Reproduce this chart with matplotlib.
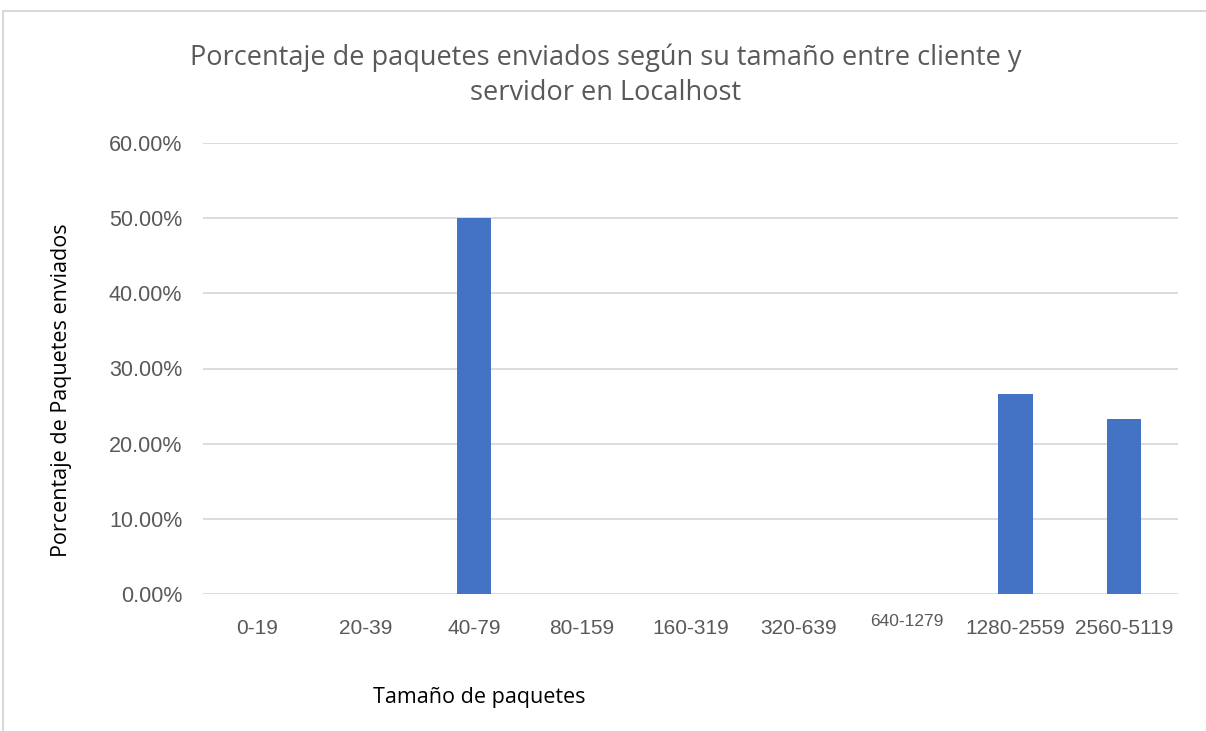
"""Porcentaje de paquetes enviados segun su tamano (Localhost)"""

import matplotlib.pyplot as plt
from matplotlib.patches import Rectangle

categories = ['0-19', '20-39', '40-79', '80-159', '160-319', '320-639',
              '640-1279', '1280-2559', '2560-5119']
percentages = [0.0, 0.0, 50.0, 0.0, 0.0, 0.0, 0.0, 26.67, 23.33]
y_ticks = [0, 10, 20, 30, 40, 50, 60]

W, H = 1206, 731
fig = plt.figure(figsize=(W / 100, H / 100), dpi=100)

# plot area in pixels
left, right, top, bottom = 203, 1178, 143, 594
ax = fig.add_axes([left / W, 1 - bottom / H, (right - left) / W, (bottom - top) / H])

x = range(len(categories))
ax.bar(x, percentages, width=0.32, color='#4472C4', zorder=3)
ax.set_xlim(-0.5, len(categories) - 0.5)
ax.set_ylim(0, 60)
ax.set_yticks(y_ticks)
ax.set_yticklabels([f'{v:.2f}%' for v in y_ticks], family='Liberation Sans',
                   fontsize=15.5, color='#595959')
ax.set_xticks(list(x))
ax.set_xticklabels(categories, family='Liberation Sans', fontsize=15, color='#595959')
for lbl in ax.get_xticklabels():
    if lbl.get_text() == '640-1279':
        lbl.set_fontsize(12.5)
        lbl.set_y(0.012)
ax.tick_params(length=0)
ax.tick_params(axis='x', pad=18)
ax.tick_params(axis='y', pad=15)
ax.grid(axis='y', color='#D9D9D9', linewidth=1.3, zorder=0)
for s in ax.spines.values():
    s.set_visible(False)

fig.text(606 / W, 1 - 75 / H,
         'Porcentaje de paquetes enviados según su tamaño entre cliente y\nservidor en Localhost',
         ha='center', va='center', family='Open Sans', fontsize=19.5, color='#595959',
         linespacing=1.32)
fig.text(62 / W, 1 - 390 / H, 'Porcentaje de Paquetes enviados', rotation=90,
         ha='center', va='center', family='Open Sans', fontsize=15.5, color='black')
fig.text(479 / W, 1 - 698 / H, 'Tamaño de paquetes', ha='center', va='center',
         family='Open Sans', fontsize=15.5, color='black')

# outer chart frame
fig.patches.append(Rectangle((3 / W, -0.01), 1.02, 1 - 11 / H + 0.01,
                             transform=fig.transFigure, fill=False,
                             edgecolor='#D9D9D9', linewidth=1.5))

fig.savefig('out.png', dpi=100)
